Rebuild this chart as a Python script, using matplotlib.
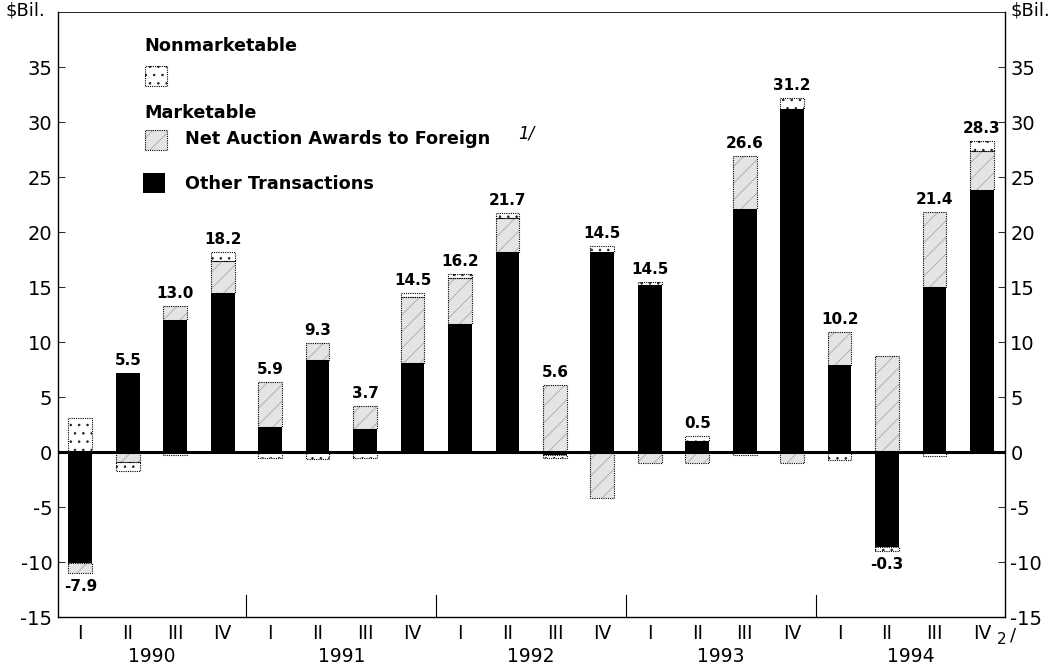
import numpy as np
import matplotlib.pyplot as plt
from matplotlib.patches import Rectangle

plt.rcParams['font.family'] = ['DejaVu Sans']
plt.rcParams['axes.unicode_minus'] = False
plt.rcParams['hatch.linewidth'] = 0.6

quarters = ['I', 'II', 'III', 'IV'] * 5
years = ['1990', '1991', '1992', '1993', '1994']
# $ billions
other = [-10.1, 7.2, 12.0, 14.5, 2.3, 8.4, 2.1, 8.1, 11.6, 18.2,
         -0.3, 18.2, 15.2, 1.0, 22.1, 31.2, 7.9, -8.6, 15.0, 23.8]
auction = [-0.9, -0.9, 1.3, 2.9, 4.1, 1.5, 2.1, 6.0, 4.2, 3.1,
           6.1, -4.2, -1.0, -1.0, 4.8, -1.0, 3.0, 8.7, 6.8, 3.6]
nonmkt = [3.1, -0.8, -0.3, 0.8, -0.5, -0.6, -0.5, 0.4, 0.4, 0.4,
          -0.2, 0.5, 0.3, 0.5, -0.3, 1.0, -0.7, -0.4, -0.4, 0.9]
totals = [-7.9, 5.5, 13.0, 18.2, 5.9, 9.3, 3.7, 14.5, 16.2, 21.7,
          5.6, 14.5, 14.5, 0.5, 26.6, 31.2, 10.2, -0.3, 21.4, 28.3]

fig = plt.figure(figsize=(10.61, 6.70), dpi=100)
ax = fig.add_axes([0.0547, 0.079, 0.8923, 0.903])

x = np.arange(len(quarters))
w = 0.5
pos_base = np.zeros(len(x))
neg_base = np.zeros(len(x))

dotted = dict(facecolor='white', edgecolor='#222222', hatch='..', linewidth=0)
striped = dict(facecolor='#e4e4e4', edgecolor='#a8a8a8', hatch='//', linewidth=0)
edge = dict(fill=False, edgecolor='black', linewidth=0.8, linestyle=(0, (1, 1)))

styles = [
    (other, dict(color='black', linewidth=0), False),
    (auction, striped, True),
    (nonmkt, dotted, True),
]
for vals, kw, outline in styles:
    vals = np.array(vals)
    base = np.where(vals >= 0, pos_base, neg_base)
    ax.bar(x, vals, w, bottom=base, **kw, zorder=2)
    if outline:
        ax.bar(x, vals, w, bottom=base, **edge, zorder=3)
    pos_base = np.where(vals >= 0, pos_base + vals, pos_base)
    neg_base = np.where(vals < 0, neg_base + vals, neg_base)

for i, t in enumerate(totals):
    if t >= 0:
        ax.text(x[i], pos_base[i] + 0.45, f'{t:.1f}', ha='center', va='bottom',
                fontsize=11, fontweight='bold')
    else:
        ax.text(x[i], neg_base[i] - 0.5, f'{t:.1f}', ha='center', va='top',
                fontsize=11, fontweight='bold')

ax.axhline(0, color='black', linewidth=2.2, zorder=4)

ax.set_xlim(-0.47, 19.48)
ax.set_ylim(-15, 40)
ax.set_yticks(np.arange(-15, 40, 5))
ax.tick_params(axis='y', direction='in', length=5, width=0.6, labelsize=14,
               left=True, right=True, labelleft=True, labelright=True, pad=4)
ax.set_xticks(x)
ax.set_xticklabels(quarters, fontsize=13.5)
ax.tick_params(axis='x', length=0, pad=5)
for s in ax.spines.values():
    s.set_linewidth(1.0)
ax.spines['top'].set_linewidth(0.6)

# year separators
for b in [3.5, 7.5, 11.5, 15.5]:
    ax.plot([b, b], [-15, -13], color='black', linewidth=0.8, clip_on=False)
for k, yr in enumerate(years):
    ax.text(4 * k + 1.5, -18.6, yr, ha='center', va='center', fontsize=13.5)

fig.text(0.005, 0.984, '$Bil.', ha='left', va='center', fontsize=13)
fig.text(0.952, 0.984, '$Bil.', ha='left', va='center', fontsize=13)

fig.text(1002 / 1061, 1 - 640 / 670, '2', fontsize=11, ha='center', va='center')
fig.text(1013 / 1061, 1 - 636 / 670, '/', fontsize=13, ha='center', va='center')


# legend
def px(xp, yp):
    return xp / 1061, 1 - yp / 670


def swatch(xp, yp, **kw):
    fx, fy = px(xp, yp + 20)
    r = Rectangle((fx, fy), 22 / 1061, 20 / 670, transform=fig.transFigure, **kw)
    fig.patches.append(r)


fig.text(*px(144, 46), 'Nonmarketable', fontsize=12.7, fontweight='bold', va='center')
swatch(145, 66, **dotted)
swatch(145, 66, **edge)
fig.text(*px(144, 113), 'Marketable', fontsize=12.7, fontweight='bold', va='center')
swatch(145, 130, **striped)
swatch(145, 130, **edge)
fig.text(*px(185, 139), 'Net Auction Awards to Foreign', fontsize=12.7,
         fontweight='bold', va='center')
fig.text(*px(518, 134), '1/', fontsize=12, fontstyle='italic', va='center')
swatch(143, 173, facecolor='black', linewidth=0)
fig.text(*px(185, 184), 'Other Transactions', fontsize=12.7, fontweight='bold', va='center')

fig.savefig('out.png', dpi=100)
